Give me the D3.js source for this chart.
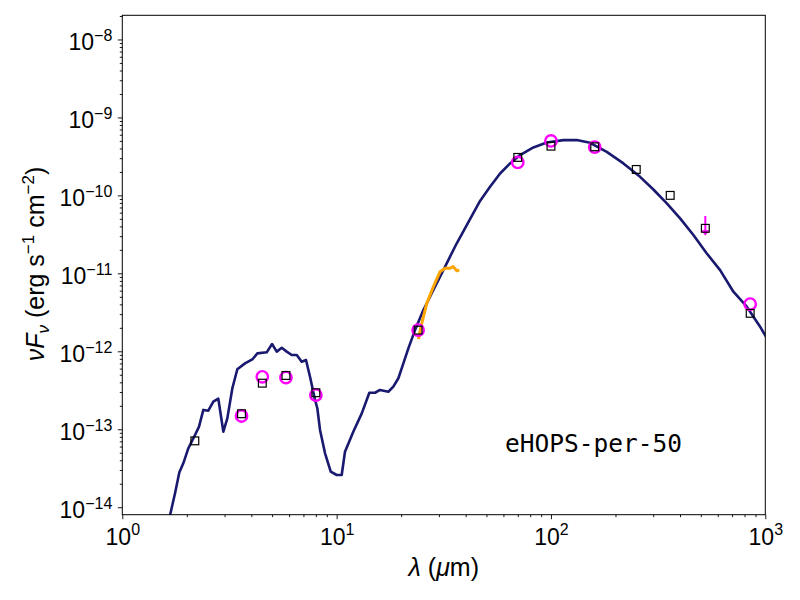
<!DOCTYPE html>
<html>
<head>
<meta charset="utf-8">
<script src="https://cdn.jsdelivr.net/npm/d3@7"></script>
<style>
  body { margin: 0; background: #fff; }
  svg { display: block; }
</style>
</head>
<body>
<svg id="chart" width="800" height="600"></svg>
<script>
// ===== DATA =====
// model SED (wavelength in micron, nuFnu in erg/s/cm2)
const modelWave = [1.67, 1.762, 1.845, 1.926, 2.032, 2.108, 2.184, 2.28, 2.388, 2.519, 2.659, 2.805,
  2.961, 3.09, 3.262, 3.441, 3.737, 4.06, 4.266, 4.719, 4.996, 5.255, 5.544, 5.849, 6.172, 6.514,
  6.872, 7.196, 7.513, 7.93, 8.128, 8.366, 8.83, 9.386, 10.01, 10.56, 10.94, 11.96, 13.1, 14.21,
  15.11, 15.94, 17.43, 18.39, 19.41, 20.48, 21.61, 23.22, 25.39, 27.79, 30.38, 33.2, 36.35, 40.47,
  46.68, 51.97, 57.89, 64.43, 71.76, 82.78, 95.6, 114.3, 131.9, 152.2, 182.1, 217.8, 260.5, 300.5,
  347.1, 400.4, 461.9, 533.4, 615.3, 709.8, 819.6, 945.6, 1076];
const modelFlux = [7.9e-15, 1.51e-14, 2.78e-14, 3.66e-14, 5.7e-14, 6.93e-14, 8.45e-14, 1.08e-13, 1.77e-13,
  1.73e-13, 2.26e-13, 2.47e-13, 9.3e-14, 1.38e-13, 3.36e-13, 5.88e-13, 7.0e-13, 7.96e-13, 9.4e-13,
  9.7e-13, 1.24e-12, 9.9e-13, 1.11e-12, 9.9e-13, 8.97e-13, 8.97e-13, 7.36e-13, 7.73e-13, 4.72e-13,
  2.38e-13, 1.86e-13, 9.8e-14, 4.92e-14, 2.86e-14, 2.59e-14, 2.59e-14, 5.16e-14, 9.3e-14, 1.6e-13,
  2.94e-13, 2.94e-13, 3.19e-13, 3.03e-13, 3.52e-13, 4.51e-13, 7.0e-13, 1.09e-12, 1.87e-12, 3.38e-12,
  5.55e-12, 9.04e-12, 1.48e-11, 2.43e-11, 4.16e-11, 8.5e-11, 1.29e-10, 1.91e-10, 2.57e-10, 3.29e-10,
  4.12e-10, 4.78e-10, 5.12e-10, 5.12e-10, 4.72e-10, 3.62e-10, 2.57e-10, 1.73e-10, 1.19e-10, 7.89e-11,
  5.07e-11, 3.1e-11, 1.8e-11, 1.1e-11, 5.81e-12, 3.73e-12, 2.07e-12, 1.13e-12];

// IRS spectrum
const irsWave = [24.06, 24.96, 26.33, 28.27, 30.38, 32.05, 33.82, 34.93, 36.35, 37.38];
const irsFlux = [1.43e-12, 2.28e-12, 4.12e-12, 6.73e-12, 1.05e-11, 1.16e-11, 1.16e-11, 1.22e-11, 1.08e-11, 1.10e-11];

// observed photometry (magenta circles)
const obsWave = [3.6, 4.5, 5.8, 8.0, 24, 70, 100, 160, 850];
const obsFlux = [1.48e-13, 4.7e-13, 4.6e-13, 2.75e-13, 1.87e-12, 2.65e-10, 5.0e-10, 4.16e-10, 4.04e-12];

// upper limit (magenta arrow)
const limWave = [525];
const limFlux = [3.78e-11];
const limTop = [5.43e-11];

// model photometry (black squares)
const photWave = [2.18, 3.6, 4.5, 5.8, 8.0, 24, 70, 100, 160, 250, 360, 525, 850];
const photFlux = [7.1e-14, 1.58e-13, 3.9e-13, 4.9e-13, 2.94e-13, 1.87e-12, 3.07e-10, 4.28e-10,
  4.2e-10, 2.15e-10, 1.0e-10, 3.78e-11, 3.07e-12];

const xExponents = [0, 1, 2, 3];
const yExponents = [-14, -13, -12, -11, -10, -9, -8];
const label = 'eHOPS-per-50';

// ===== CHART =====
const svg = d3.select('#chart');
const margin = { top: 15.3, right: 34.7, bottom: 85.3, left: 122.3 };
const width = 800 - margin.left - margin.right;
const height = 600 - margin.top - margin.bottom;

const x = d3.scaleLog().domain([1, 1000]).range([0, width]);
const y = d3.scaleLog().domain([Math.pow(10, -14.096), Math.pow(10, -7.69)]).range([height, 0]);

const g = svg.append('g').attr('transform', `translate(${margin.left},${margin.top})`);

svg.append('defs').append('clipPath').attr('id', 'clip')
  .append('rect').attr('width', width).attr('height', height);

const plot = g.append('g').attr('clip-path', 'url(#clip)');

const line = d3.line().x(d => x(d[0])).y(d => y(d[1]));

plot.append('path')
  .datum(d3.zip(modelWave, modelFlux))
  .attr('d', line)
  .attr('fill', 'none')
  .attr('stroke', '#191970')
  .attr('stroke-width', 2.6)
  .attr('stroke-linejoin', 'round');

plot.append('path')
  .datum(d3.zip(irsWave, irsFlux))
  .attr('d', line)
  .attr('fill', 'none')
  .attr('stroke', '#ffa500')
  .attr('stroke-width', 3)
  .attr('stroke-linejoin', 'round');

plot.selectAll('.obs')
  .data(d3.zip(obsWave, obsFlux))
  .join('circle')
  .attr('class', 'obs')
  .attr('cx', d => x(d[0]))
  .attr('cy', d => y(d[1]))
  .attr('r', 5.7)
  .attr('fill', 'none')
  .attr('stroke', '#ff00ff')
  .attr('stroke-width', 2.4);

// upper limit: bar + downward arrow head
const lims = d3.zip(limWave, limFlux, limTop);
plot.selectAll('.limbar')
  .data(lims)
  .join('line')
  .attr('class', 'limbar')
  .attr('x1', d => x(d[0])).attr('x2', d => x(d[0]))
  .attr('y1', d => y(d[2])).attr('y2', d => y(d[1]) + 4)
  .attr('stroke', '#ff00ff')
  .attr('stroke-width', 2);
plot.selectAll('.limhead')
  .data(lims)
  .join('path')
  .attr('class', 'limhead')
  .attr('transform', d => `translate(${x(d[0])},${y(d[1])})`)
  .attr('d', 'M-4,2 L4,2 L0,7.5 Z')
  .attr('fill', '#ff00ff');

plot.selectAll('.phot')
  .data(d3.zip(photWave, photFlux))
  .join('rect')
  .attr('class', 'phot')
  .attr('x', d => x(d[0]) - 3.9)
  .attr('y', d => y(d[1]) - 3.9)
  .attr('width', 7.8)
  .attr('height', 7.8)
  .attr('fill', 'none')
  .attr('stroke', '#000')
  .attr('stroke-width', 1.2);

// ===== AXES =====
const minors = (lo, hi) => {
  const out = [];
  for (let e = lo; e < hi; e++) for (let m = 2; m <= 9; m++) out.push(m * Math.pow(10, e));
  return out;
};

const styleAxis = sel => {
  sel.select('.domain').remove();
  sel.selectAll('line').attr('stroke', '#000').attr('stroke-width', 0.9);
};

g.append('g')
  .attr('transform', `translate(0,${height})`)
  .call(d3.axisBottom(x).tickValues(minors(0, 3)).tickSize(2.5).tickFormat(''))
  .call(styleAxis);
const xAxis = g.append('g')
  .attr('transform', `translate(0,${height})`)
  .call(d3.axisBottom(x).tickValues(xExponents.map(e => Math.pow(10, e))).tickSize(4.5).tickFormat(''))
  .call(styleAxis);

g.append('g')
  .call(d3.axisLeft(y).tickValues(minors(-14, -7).filter(v => v <= y.domain()[1])).tickSize(2.5).tickFormat(''))
  .call(styleAxis);
const yAxis = g.append('g')
  .call(d3.axisLeft(y).tickValues(yExponents.map(e => Math.pow(10, e))).tickSize(4.5).tickFormat(''))
  .call(styleAxis);

const tickFont = 'Liberation Sans, Arial, sans-serif';

xAxis.selectAll('.tick').each(function(d, i) {
  const t = d3.select(this).append('text')
    .attr('y', 30)
    .attr('fill', '#000')
    .attr('text-anchor', 'middle')
    .style('font-family', tickFont)
    .style('font-size', '23px');
  t.append('tspan').text('10');
  t.append('tspan').attr('dy', -9.5).style('font-size', '16px').text(xExponents[i]);
});

yAxis.selectAll('.tick').each(function(d, i) {
  const t = d3.select(this).append('text')
    .attr('x', -10)
    .attr('y', 10.5)
    .attr('fill', '#000')
    .attr('text-anchor', 'end')
    .style('font-family', tickFont)
    .style('font-size', '23px');
  t.append('tspan').text('10');
  t.append('tspan').attr('dy', -9.5).style('font-size', '16px').text('\u2212' + Math.abs(yExponents[i]));
});

// frame
g.append('rect')
  .attr('width', width)
  .attr('height', height)
  .attr('fill', 'none')
  .attr('stroke', '#000')
  .attr('stroke-width', 1);

// axis labels
const xl = svg.append('text')
  .attr('x', margin.left + width / 2)
  .attr('y', 576)
  .attr('text-anchor', 'middle')
  .style('font-family', tickFont)
  .style('font-size', '25px');
xl.append('tspan').style('font-style', 'italic').text('\u03bb');
xl.append('tspan').text(' (');
xl.append('tspan').style('font-style', 'italic').text('\u03bc');
xl.append('tspan').text('m)');

const yl = svg.append('text')
  .attr('transform', 'translate(44,264) rotate(-90)')
  .attr('text-anchor', 'middle')
  .style('font-family', tickFont)
  .style('font-size', '25px');
yl.append('tspan').style('font-style', 'italic').text('\u03bdF');
yl.append('tspan').attr('dy', 5).style('font-size', '17px').style('font-style', 'italic').text('\u03bd');
yl.append('tspan').attr('dy', -5).text(' (erg s');
yl.append('tspan').attr('dy', -10).style('font-size', '17px').text('\u22121');
yl.append('tspan').attr('dy', 10).text(' cm');
yl.append('tspan').attr('dy', -10).style('font-size', '17px').text('\u22122');
yl.append('tspan').attr('dy', 10).text(')');

// source name
g.append('text')
  .attr('x', x(Math.pow(10, 1.786)))
  .attr('y', y(Math.pow(10, -13.295)))
  .style('font-family', 'DejaVu Sans Mono, monospace')
  .style('font-size', '24.5px')
  .attr('fill', '#000')
  .text(label);
</script>
</body>
</html>
